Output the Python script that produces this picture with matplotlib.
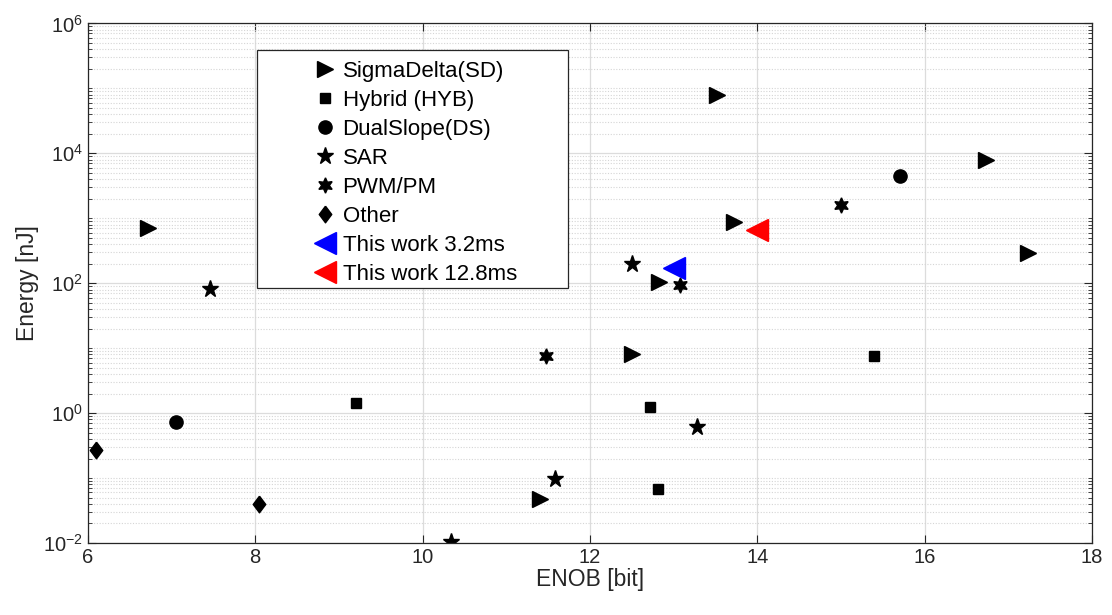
import numpy as np
import matplotlib
matplotlib.use("Agg")
import matplotlib.pyplot as plt
from matplotlib.patches import Rectangle
from matplotlib.ticker import FixedLocator, NullFormatter

plt.rcParams['font.family'] = ['Liberation Sans', 'DejaVu Sans']
plt.rcParams['mathtext.fontset'] = 'custom'
plt.rcParams['mathtext.rm'] = 'Liberation Sans'

# data (ENOB [bit], Energy [nJ])
sd_enob = [6.72, 13.52, 16.73, 13.72, 17.23, 12.82, 12.50, 11.40]
sd_energy = [720, 8.0e4, 7.9e3, 870, 295, 105, 8.1, 0.048]

hyb_enob = [9.20, 12.72, 15.40, 12.81]
hyb_energy = [1.45, 1.26, 7.6, 0.068]

ds_enob = [7.05, 15.70]
ds_energy = [0.72, 4.5e3]

sar_enob = [7.46, 12.50, 13.28, 11.58, 10.34]
sar_energy = [81, 200, 0.62, 0.096, 0.0102]

pwm_enob = [11.48, 13.08, 15.00]
pwm_energy = [7.6, 94, 1.6e3]

other_enob = [6.10, 8.05]
other_energy = [0.27, 0.04]

tw32_enob = [13.0]
tw32_energy = [170]
tw128_enob = [14.0]
tw128_energy = [660]

diamond = [(0, 1), (0.75, 0), (0, -1), (-0.75, 0), (0, 1)]

fig = plt.figure(figsize=(11.12, 6.15), dpi=100)
ax = fig.add_axes([0.079, 0.117, 0.903, 0.845])

ax.plot(sd_enob, sd_energy, '>', color='k', ms=11, ls='none', label='SigmaDelta(SD)')
ax.plot(hyb_enob, hyb_energy, 's', color='k', ms=7.5, ls='none', label='Hybrid (HYB)')
ax.plot(ds_enob, ds_energy, 'o', color='k', ms=9.5, ls='none', label='DualSlope(DS)')
ax.plot(sar_enob, sar_energy, '*', color='k', ms=12.5, ls='none', label='SAR')
ax.plot(pwm_enob, pwm_energy, marker=(6, 1, 0), color='k', ms=11, ls='none', label='PWM/PM')
ax.plot(other_enob, other_energy, marker=diamond, color='k', ms=12, ls='none', label='Other')
ax.plot(tw32_enob, tw32_energy, '<', color='b', ms=16, ls='none', label='This work 3.2ms')
ax.plot(tw128_enob, tw128_energy, '<', color='r', ms=16, ls='none', label='This work 12.8ms')

ax.set_yscale('log')
ax.set_xlim(6, 18)
ax.set_ylim(1e-2, 1e6)
ax.set_xticks([6, 8, 10, 12, 14, 16, 18])
ax.yaxis.set_major_locator(FixedLocator([1e-2, 1e0, 1e2, 1e4, 1e6]))
minors = [k * 10.0 ** e for e in range(-2, 6) for k in range(1, 10)
          if not (k == 1 and e % 2 == 0)]
ax.yaxis.set_minor_locator(FixedLocator(minors))
ax.yaxis.set_minor_formatter(NullFormatter())

axcol = '#262626'
for s in ax.spines.values():
    s.set_color(axcol)
    s.set_linewidth(0.9)
ax.tick_params(which='both', direction='in', top=True, right=True, colors=axcol,
               labelsize=14.5, labelcolor=axcol)
ax.tick_params(which='major', length=6)
ax.tick_params(which='minor', length=3)

ax.grid(True, which='major', axis='both', color='#dcdcdc', lw=0.9, ls='-')
ax.grid(True, which='minor', axis='y', color='#d5d5d5', lw=0.8, ls=(0, (1, 1.5)))
ax.set_axisbelow(True)

ax.set_xlabel('ENOB [bit]', fontsize=16.5, color=axcol, labelpad=1)
ax.set_ylabel('Energy [nJ]', fontsize=16.5, color=axcol, labelpad=3)

# legend box drawn separately (MATLAB-like centred content)
ax.add_patch(Rectangle((0.168, 0.49), 0.310, 0.459, transform=ax.transAxes,
                       facecolor='white', edgecolor=axcol, lw=0.9, zorder=5))
leg = ax.legend(loc='upper left', bbox_to_anchor=(0.205, 0.962), frameon=False,
                fontsize=16, handlelength=1.2, handletextpad=0.2,
                labelspacing=0.36, borderpad=0.3, numpoints=1)
leg.set_zorder(6)

fig.savefig('out.png', dpi=100)
